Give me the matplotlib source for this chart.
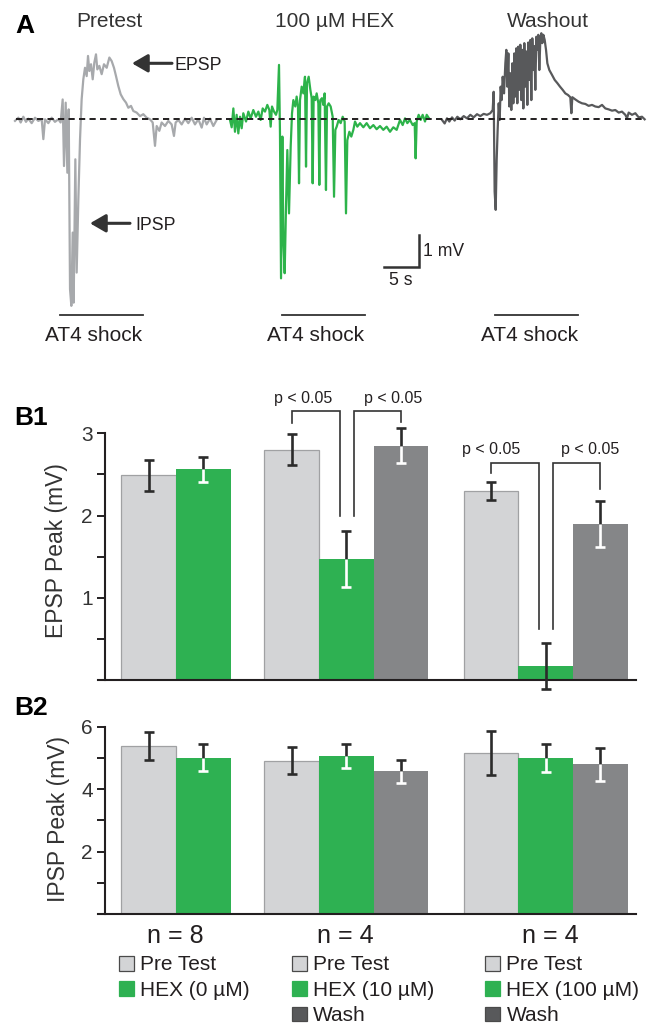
import matplotlib
matplotlib.use('Agg')
import matplotlib.pyplot as plt
from matplotlib.patches import Rectangle
import numpy as np

plt.rcParams['font.family'] = ['Liberation Sans', 'DejaVu Sans']

# ---------------- DATA ----------------
# Panel A traces: (time s, membrane potential mV) relative to trace start
pre_trace = [(0, -0.05), (0.48, 0.05), (0.81, -0.10), (1.19, 0.08), (1.57, -0.08), (1.90, 0.02),
             (2.38, -0.12), (2.86, 0.05), (3.33, -0.05), (3.81, 0), (4.05, -0.62), (4.29, 0),
             (4.76, -0.12), (5.24, 0.05), (5.71, -0.08), (6.19, 0), (6.52, -0.10), (6.81, 0.62),
             (7.0, -1.46), (7.24, 0.52), (7.48, -1.67), (7.67, 0.31), (7.86, -5.31), (8.05, -5.83),
             (8.24, -3.54), (8.38, -5.73), (8.62, -1.25), (8.81, -4.79), (9.05, -2.5), (9.29, -0.62),
             (9.52, 0.62), (9.76, 1.25), (10.0, 1.61), (10.24, 1.35), (10.43, 1.98), (10.62, 1.51),
             (10.86, 1.72), (11.1, 1.25), (11.33, 1.77), (11.57, 2.03), (11.76, 1.56), (12.05, 1.67),
             (12.38, 1.41), (12.71, 1.72), (13.1, 1.61), (13.48, 1.93), (13.81, 1.82), (14.14, 1.61),
             (14.43, 1.35), (14.76, 1.04), (15.1, 0.78), (15.48, 0.63), (15.86, 0.52), (16.19, 0.36),
             (16.57, 0.42), (16.9, 0.26), (17.38, 0.21), (17.86, 0.10), (18.33, 0.16), (18.81, 0.05),
             (19.29, 0), (19.67, -0.10), (20.0, -0.83), (20.24, -0.21), (20.62, -0.36), (20.95, -0.10),
             (21.43, -0.21), (21.9, -0.05), (22.38, -0.16), (22.71, -0.52), (22.95, -0.10), (23.33, -0.02),
             (23.81, -0.16), (24.29, 0.02), (24.76, -0.12), (25.24, 0.05), (25.71, -0.16), (26.19, 0),
             (26.67, -0.26), (27.0, 0.05), (27.38, -0.16), (27.86, 0.02), (28.33, -0.21), (28.81, -0.02)]

hex_trace = [(0, -0.02), (0.24, -0.25), (0.48, 0.34), (0.71, -0.39), (0.95, 0.14), (1.19, -0.44),
             (1.43, 0.08), (1.67, -0.28), (1.90, 0.19), (2.29, -0.07), (2.62, 0.24), (2.95, 0.03),
             (3.33, 0.29), (3.71, 0.08), (4.05, 0.24), (4.38, -0.02), (4.67, 0.34), (5.0, 0.24),
             (5.33, 0.45), (5.62, 0.29), (5.81, -0.23), (6.0, 0.40), (6.29, 0.24), (6.57, 0.14),
             (6.76, 0.29), (7.0, 1.70), (7.14, -0.44), (7.29, -4.97), (7.48, -0.54), (7.62, -3.77),
             (7.81, -4.81), (8.0, -2.73), (8.19, -0.96), (8.43, -2.94), (8.67, -0.85), (8.86, 0.19),
             (9.05, 0.60), (9.33, 0.40), (9.52, 0.71), (9.71, 0.40), (9.86, -2.0), (10.0, 0.60),
             (10.24, 1.02), (10.48, 0.81), (10.71, 1.33), (10.86, -1.48), (11.0, 1.13), (11.24, 1.33),
             (11.48, 0.92), (11.67, 0.66), (11.81, -2.0), (11.95, 0.71), (12.19, 0.60), (12.38, 0.81),
             (12.62, 0.50), (12.76, -2.05), (12.90, 0.60), (13.14, 0.66), (13.33, 0.45), (13.52, 0.81),
             (13.71, -2.21), (13.86, 0.40), (14.1, 0.50), (14.38, 0.40), (14.67, 0.08), (14.86, -2.42),
             (15.05, -0.33), (15.24, -0.23), (15.52, -0.02), (15.81, -0.12), (16.1, 0.08), (16.38, -0.07),
             (16.57, -2.94), (16.76, -0.65), (17.05, -0.39), (17.33, -0.54), (17.62, -0.33), (17.86, -0.07),
             (18.19, -0.23), (18.57, -0.12), (19.05, -0.25), (19.52, -0.12), (20.0, -0.28), (20.48, -0.18),
             (20.95, -0.31), (21.43, -0.21), (21.9, -0.33), (22.38, -0.23), (22.86, -0.39), (23.33, -0.25),
             (23.81, -0.33), (24.29, -0.02), (24.67, -0.18), (25.0, 0.03), (25.33, -0.12), (25.71, -0.02),
             (26.1, -0.18), (26.38, -0.12), (26.52, -1.22), (26.67, -0.07), (26.95, 0.14), (27.24, -0.02),
             (27.52, 0.14), (27.86, -0.07), (28.1, 0.14), (28.43, 0.03)]

wash_trace = [(0, -0.02), (0.38, -0.13), (0.71, 0.03), (1.05, -0.07), (1.43, 0.06), (1.81, -0.04),
              (2.19, 0.08), (2.62, 0), (3.10, 0.10), (3.57, 0.03), (4.05, 0.14), (4.52, 0.06),
              (5.0, 0.16), (5.48, 0.10), (5.95, 0.17), (6.43, 0.14), (6.90, 0.19), (7.24, 0.29),
              (7.38, 0.86), (7.52, -2.26), (7.67, -2.83), (7.81, -1.27), (7.95, -0.33), (8.10, 0.50),
              (8.24, -0.02), (8.38, 1.02), (8.52, 0.60), (8.67, 1.33), (8.86, 0.81), (9.05, 1.75),
              (9.19, 2.17), (9.33, 1.02), (9.48, 2.06), (9.62, 0.40), (9.76, 1.44), (9.90, 0.29),
              (10.05, 1.75), (10.19, 0.50), (10.33, 2.06), (10.48, 0.71), (10.62, 2.22), (10.76, 0.50),
              (10.90, 2.27), (11.05, 0.92), (11.19, 2.33), (11.33, 0.60), (11.48, 2.17), (11.62, 0.34),
              (11.76, 2.38), (11.90, 1.02), (12.05, 2.12), (12.19, 0.45), (12.33, 2.40), (12.48, 1.23),
              (12.62, 2.48), (12.76, 0.60), (12.90, 2.53), (13.05, 1.54), (13.19, 2.29), (13.33, 0.92),
              (13.48, 2.58), (13.62, 2.17), (13.76, 2.64), (13.90, 1.54), (14.05, 2.48), (14.19, 2.69),
              (14.33, 2.38), (14.48, 2.64), (14.67, 2.48), (14.86, 2.17), (15.05, 1.75), (15.33, 1.54),
              (15.71, 1.39), (16.10, 1.23), (16.48, 1.13), (16.86, 1.02), (17.24, 0.92), (17.62, 0.81),
              (18.0, 0.76), (18.33, 0.69), (18.48, 0.19), (18.62, 0.69), (19.05, 0.62), (19.52, 0.55),
              (20.0, 0.50), (20.48, 0.48), (20.95, 0.42), (21.43, 0.45), (21.90, 0.40), (22.38, 0.38),
              (22.86, 0.45), (23.33, 0.34), (23.81, 0.31), (24.29, 0.27), (24.76, 0.29), (25.24, 0.21),
              (25.71, 0.24), (26.19, 0.14), (26.43, 0.03), (26.67, 0.21), (27.14, 0.14), (27.62, 0.19),
              (28.10, 0.06), (28.57, 0.08), (28.95, 0)]

trace_titles = ['Pretest', '100 µM HEX', 'Washout']
shock_label = 'AT4 shock'
shock_on = [6.43, 7.43, 7.57]     # s, relative to trace start
shock_off = [18.29, 19.29, 19.43]
scale_mv = 1
scale_s = 5

group_n = ['n = 8', 'n = 4', 'n = 4']
legend_labels = [['Pre Test', 'HEX (0 µM)'],
                 ['Pre Test', 'HEX (10 µM)', 'Wash'],
                 ['Pre Test', 'HEX (100 µM)', 'Wash']]
epsp_mean = [[2.49, 2.56], [2.80, 1.47, 2.85], [2.30, 0.17, 1.90]]
epsp_err = [[0.19, 0.15], [0.19, 0.34, 0.21], [0.11, 0.28, 0.28]]
ipsp_mean = [[5.39, 5.01], [4.91, 5.07, 4.57], [5.16, 4.99, 4.79]]
ipsp_err = [[0.45, 0.43], [0.43, 0.39, 0.37], [0.71, 0.45, 0.54]]

sig_text = 'p < 0.05'
# (group, bar_from, bar_to, top level, end level at from, end level at to, label level)
sig_brackets = [(1, 0, 1, 3.27, 3.12, 2.00, 3.37),
                (1, 1, 2, 3.27, 2.00, 3.14, 3.37),
                (2, 0, 1, 2.64, 2.52, 0.62, 2.75),
                (2, 1, 2, 2.64, 0.62, 2.32, 2.75)]

# ---------------- STYLE / LAYOUT ----------------
W, H = 653, 1024
INK = '#231f20'
TXT = '#333333'
ERRC = '#2b2b2b'
LIGHT = '#d3d4d6'
LIGHT_EDGE = '#a0a1a3'
GREEN = '#2eb152'
DARK = '#858688'
WASH_LEG = '#58595b'
trace_colors = ['#a7a9ac', '#2db34a', '#58595b']
bar_colors = [LIGHT, GREEN, DARK]
legend_colors = [LIGHT, GREEN, WASH_LEG]

fig = plt.figure(figsize=(W / 100, H / 100), dpi=100)

# overlay in pixel coordinates for annotations
ov = fig.add_axes([0, 0, 1, 1], zorder=5)
ov.set_xlim(0, W)
ov.set_ylim(H, 0)
ov.axis('off')
ov.patch.set_alpha(0)

# ---------------- Panel A ----------------
PX_S, PX_MV, BASE_PX, A_H = 7.0, 32.0, 119.3, 350
axA = fig.add_axes([0, 1 - A_H / H, 1, A_H / H])
axA.set_xlim(0, W / PX_S)
axA.set_ylim((BASE_PX - A_H) / PX_MV, BASE_PX / PX_MV)
axA.axis('off')
trace_start_px = [15, 230, 442]
for tr, c, s0 in zip([pre_trace, hex_trace, wash_trace], trace_colors, trace_start_px):
    t, v = zip(*tr)
    axA.plot(np.array(t) + s0 / PX_S, v, color=c, lw=1.6, zorder=2)
axA.axhline(0, xmin=16 / W, xmax=646 / W, color=INK, lw=1.4, ls=(0, (3.2, 2.2)), zorder=3)

shock_y = (BASE_PX - 315) / PX_MV
for on, off, s0 in zip(shock_on, shock_off, trace_start_px):
    axA.plot([on + s0 / PX_S, off + s0 / PX_S], [shock_y, shock_y], color='#333333', lw=1.3)

# scale bar
sb_x = 419 / PX_S
sb_y = (BASE_PX - 267) / PX_MV
axA.plot([sb_x - scale_s, sb_x, sb_x], [sb_y, sb_y, sb_y + scale_mv], color='#333333', lw=1.8,
         solid_joinstyle='miter')
ov.text(423, 256.5, f'{scale_mv} mV', fontsize=12.7, color=INK, ha='left', va='baseline')
ov.text(401, 285, f'{scale_s} s', fontsize=12.7, color=INK, ha='center', va='baseline')

for title, cx in zip(trace_titles, [109, 335, 548]):
    ov.text(cx, 26.7, title, fontsize=15, color=TXT, ha='center', va='baseline')
for cx in [94, 316, 530]:
    ov.text(cx, 341, shock_label, fontsize=15, color=INK, ha='center', va='baseline')

arrowprops = dict(arrowstyle='-|>,head_length=0.95,head_width=0.55', color='#333333', lw=2.2,
                  mutation_scale=10, shrinkA=0, shrinkB=0)
ov.annotate('', xy=(132, 63.3), xytext=(172, 63.3), arrowprops=arrowprops)
ov.annotate('', xy=(90, 223.3), xytext=(130, 223.3), arrowprops=arrowprops)
ov.text(175, 70, 'EPSP', fontsize=12.8, color=INK, ha='left', va='baseline')
ov.text(135, 230, 'IPSP', fontsize=12.8, color=INK, ha='left', va='baseline')

ov.text(15, 33, 'A', fontsize=19, fontweight='bold', color='black', ha='left', va='baseline')
ov.text(14, 425, 'B1', fontsize=19, fontweight='bold', color='black', ha='left', va='baseline')
ov.text(14, 715, 'B2', fontsize=19, fontweight='bold', color='black', ha='left', va='baseline')

# ---------------- Panels B ----------------
X0_PX, UNIT_PX = 121.3, 54.7
AX_L_PX, AX_R_PX, SPINE_PX = 98, 636, 104.6
group_starts = [0, 2.616, 6.258]


def to_x(px):
    return (px - X0_PX) / UNIT_PX


def bar_panel(base_px, top_px, ymax, means, errs, yticks, ylabels, ylabel, ylabel_xy):
    ax = fig.add_axes([AX_L_PX / W, 1 - base_px / H, (AX_R_PX - AX_L_PX) / W, (base_px - top_px) / H])
    ax.set_xlim(to_x(AX_L_PX), to_x(AX_R_PX))
    ax.set_ylim(0, ymax)
    ax.patch.set_alpha(0)
    for sp in ['top', 'right']:
        ax.spines[sp].set_visible(False)
    ax.spines['left'].set_position(('data', to_x(SPINE_PX)))
    for sp in ['left', 'bottom']:
        ax.spines[sp].set_linewidth(1.5)
        ax.spines[sp].set_color(INK)
    ax.set_xticks([])
    ax.set_yticks(yticks)
    ax.set_yticklabels(ylabels)
    ax.tick_params(axis='y', length=6, width=1.4, color=INK, labelsize=15, labelcolor=TXT, pad=2.4)
    for g, (gm, ge) in enumerate(zip(means, errs)):
        for i, (m, e) in enumerate(zip(gm, ge)):
            left = group_starts[g] + i
            c = left + 0.5
            if i == 0:
                ax.bar(left, m, width=1, align='edge', color=bar_colors[i], edgecolor=LIGHT_EDGE,
                       linewidth=0.9, zorder=2)
            else:
                ax.bar(left, m, width=1, align='edge', color=bar_colors[i], linewidth=0, zorder=2)
            lo, hi = m - e, m + e
            if i == 0 or lo < 0:
                segs = [(lo, hi, ERRC)]
                caps = [(lo, ERRC), (hi, ERRC)]
            else:
                segs = [(m, hi, ERRC), (lo, m, 'white')]
                caps = [(hi, ERRC), (lo, 'white')]
            for a, b, col in segs:
                ax.plot([c, c], [a, b], color=col, lw=1.9, zorder=4, clip_on=False, solid_capstyle='butt')
            for yv, col in caps:
                ax.plot([c], [yv], marker='_', ms=7.5, mew=1.9, color=col, zorder=4, clip_on=False)
    fig.text(ylabel_xy[0] / W, 1 - ylabel_xy[1] / H, ylabel, rotation=90, fontsize=16.5,
             color=TXT, ha='center', va='center')
    return ax


axB1 = bar_panel(680, 433.3, 3, epsp_mean, epsp_err, [0.5, 1, 1.5, 2, 2.5, 3],
                 ['', '1', '', '2', '', '3'], 'EPSP Peak (mV)', (57, 551))
axB2 = bar_panel(914, 726.7, 6, ipsp_mean, ipsp_err, [1, 2, 3, 4, 5, 6],
                 ['', '2', '', '4', '', '6'], 'IPSP Peak (mV)', (59, 819))

# significance brackets on B1
label_dx = {(1, 0): 0.21, (1, 1): -0.15, (2, 0): 0.01, (2, 1): -0.19}
for g, b0, b1, top, e0, e1, ly in sig_brackets:
    x0 = group_starts[g] + b0 + 0.5 + (0.13 if b0 == 1 else 0)
    x1 = group_starts[g] + b1 + 0.5 - (0.12 if b1 == 1 else 0)
    axB1.plot([x0, x0, x1, x1], [e0, top, top, e1], color='#333333', lw=1.2, clip_on=False, zorder=5,
              solid_joinstyle='miter')
    outer = group_starts[g] + (0 if b0 == 0 else 2) + 0.5
    axB1.text(outer + label_dx[(g, b0)], ly, sig_text, fontsize=11.5, color=INK, ha='center',
              va='baseline', clip_on=False)

# group labels and legends
n_cx = [175.5, 345.5, 550]
leg_sq_x = [119, 291.5, 485]
row_top = [956, 981, 1006.5]
for g in range(3):
    ov.text(n_cx[g], 943, group_n[g], fontsize=18, color=INK, ha='center', va='baseline')
    for r, lab in enumerate(legend_labels[g]):
        ec = '#4a4a4a' if r != 1 else GREEN
        ov.add_patch(Rectangle((leg_sq_x[g], row_top[r]), 15, 14.5, facecolor=legend_colors[r],
                               edgecolor=ec, lw=0.9))
        ov.text(leg_sq_x[g] + 21.5, row_top[r] + 14.5, lab, fontsize=15, color=INK, ha='left',
                va='baseline')

fig.savefig('out.png', dpi=100)
